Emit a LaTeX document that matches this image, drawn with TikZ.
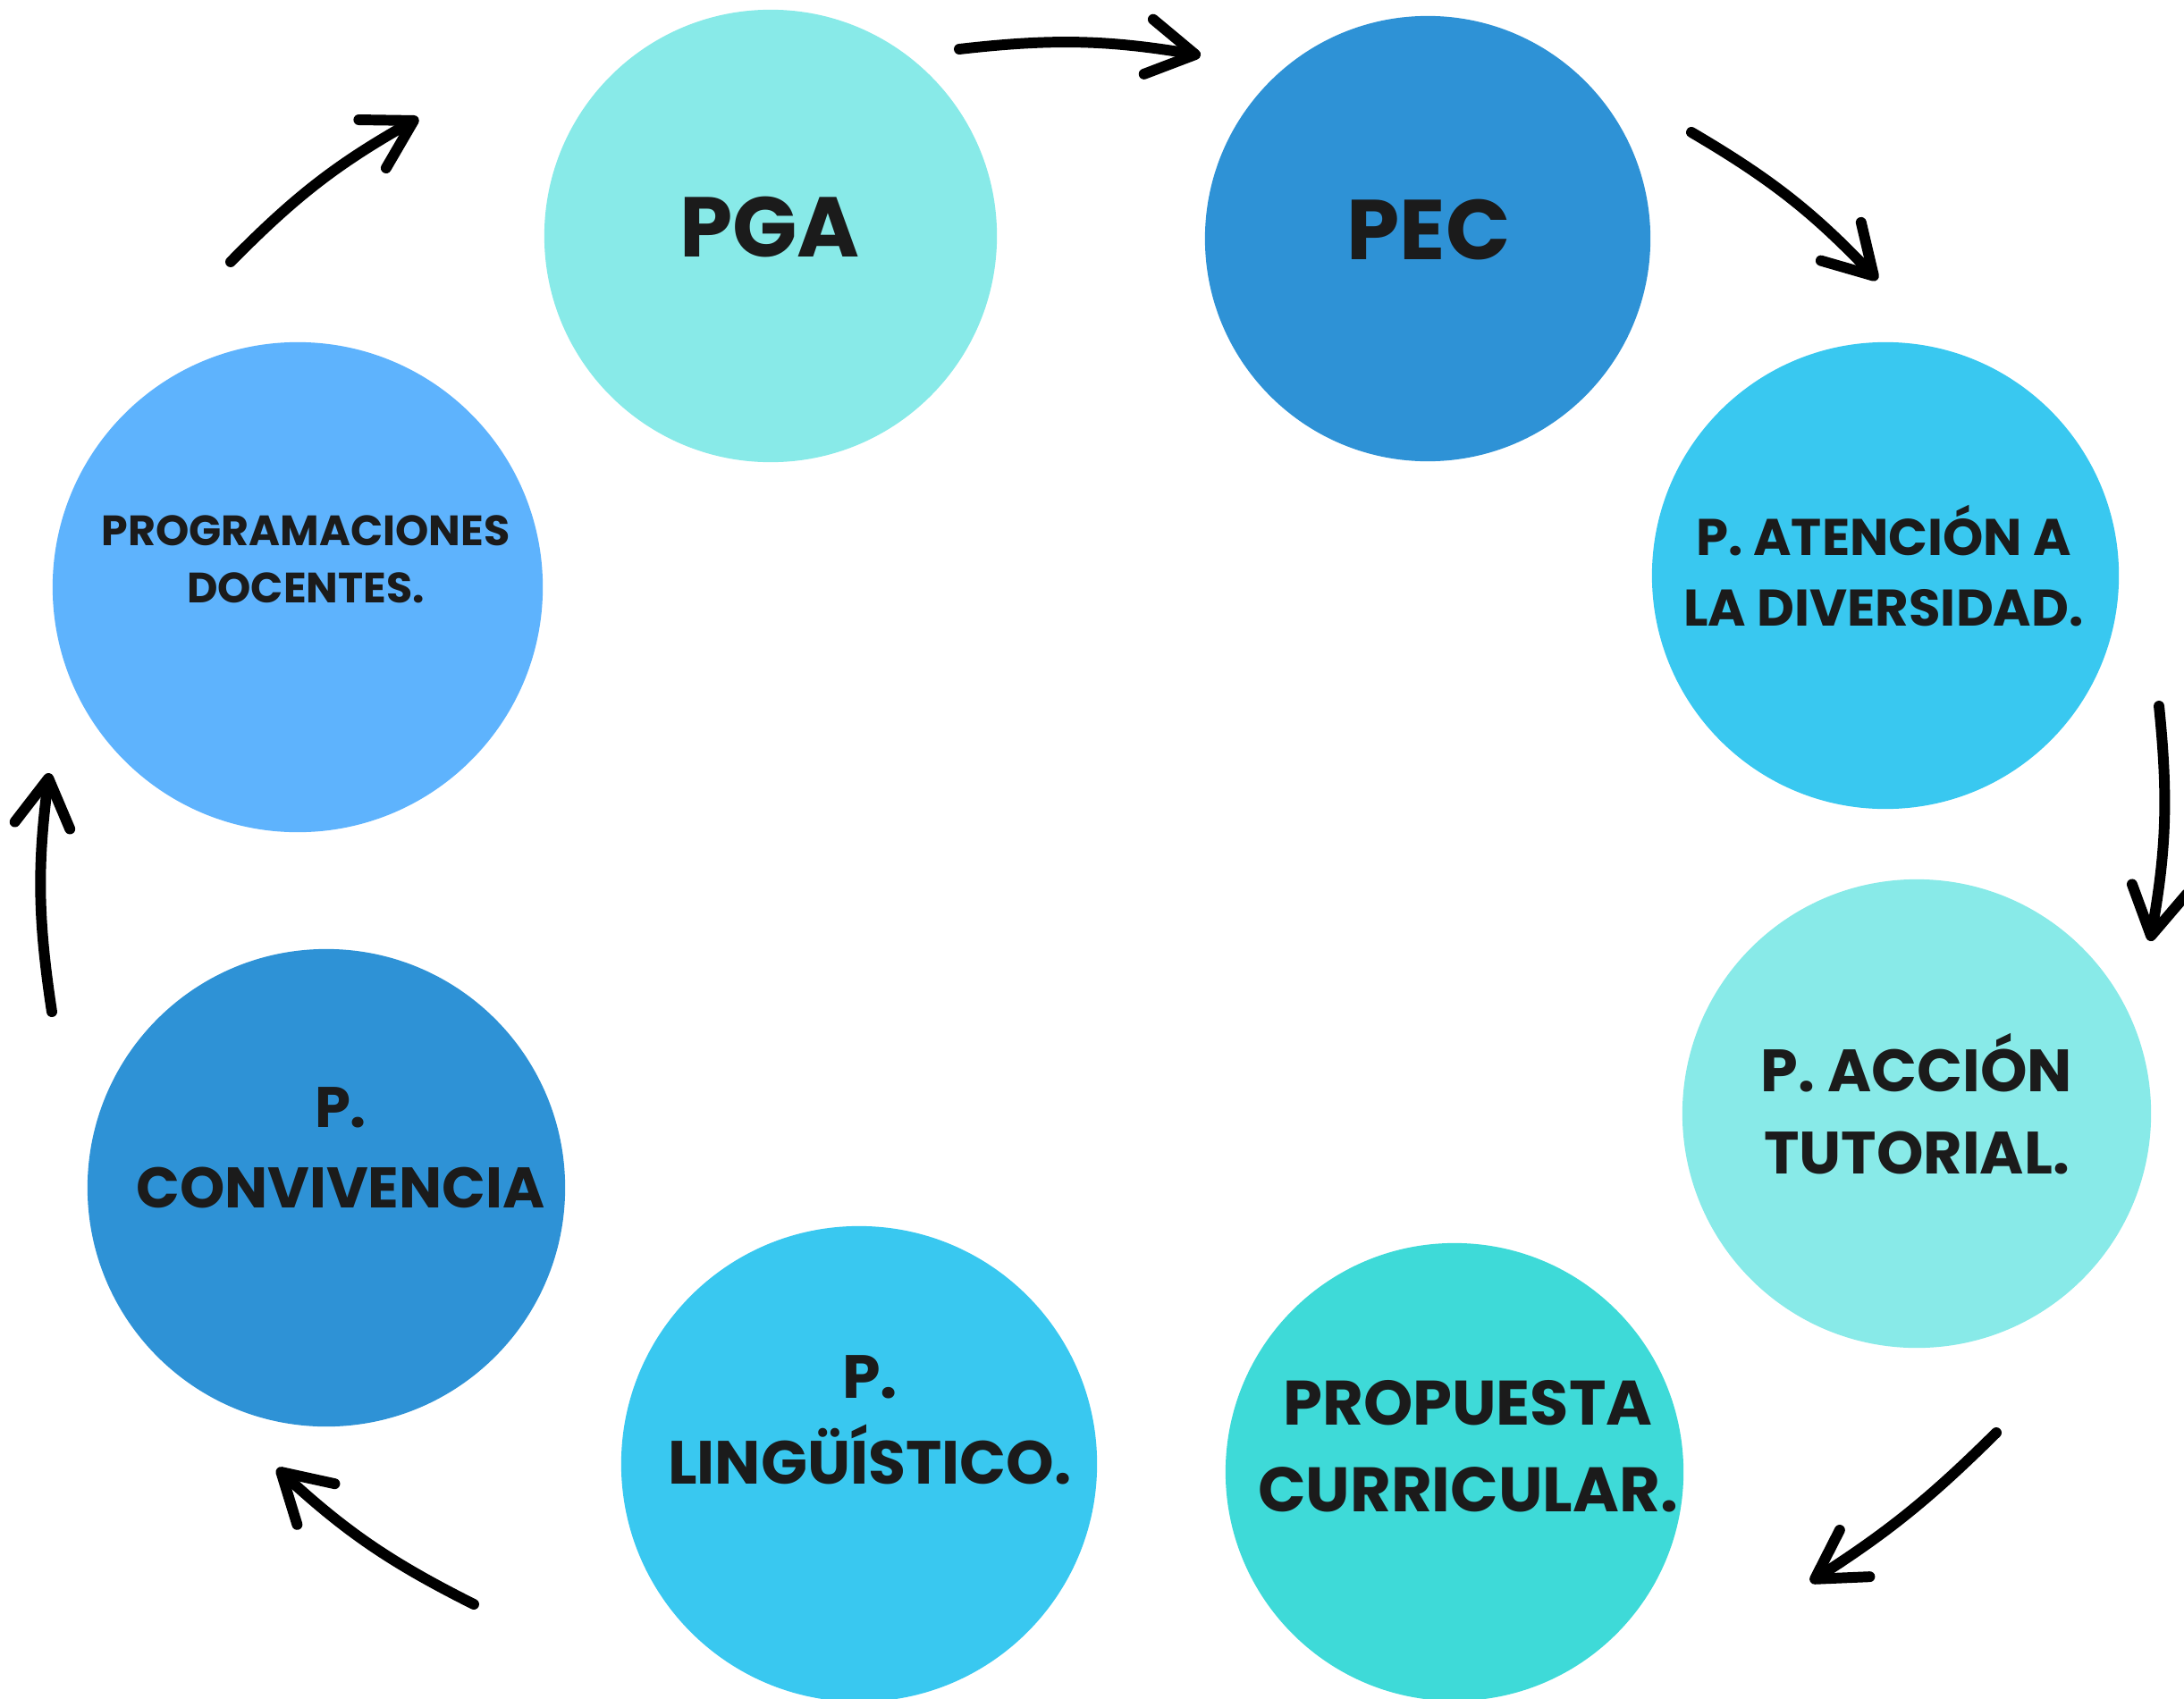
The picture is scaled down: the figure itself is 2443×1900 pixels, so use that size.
\documentclass[tikz,border=0pt]{standalone}
\usepackage{fontspec}
\setmainfont{Poppins}
\usetikzlibrary{arrows.meta}

\definecolor{aqua}{HTML}{88EAE8}
\definecolor{ocean}{HTML}{2E92D6}
\definecolor{sky}{HTML}{39C8F0}
\definecolor{turq}{HTML}{3EDAD8}
\definecolor{azure}{HTML}{5EB3FD}
\definecolor{ink}{HTML}{1B1B1B}

\begin{document}
\begin{tikzpicture}[x=0.01cm,y=0.01cm]
\tikzset{
  disc/.style={circle, inner sep=0pt, minimum size=#1},
  lbl/.style 2 args={text=ink, align=center, inner sep=0pt, font=\bfseries\fontsize{#1}{#2}\selectfont},
  flow/.style={line width=3.4pt, line cap=round, -{Straight Barb[length=5.3mm,width=6.2mm,round]}}
}
\useasboundingbox (0,0) rectangle (2443,-1900);
\fill [white] (0,0) rectangle (2443,-1900);
% circles
\node [disc=5.06cm, fill=aqua] (pga) at (862,-264) {};
\node [disc=4.98cm, fill=ocean] (pec) at (1597,-267) {};
\node [disc=5.22cm, fill=sky] (aten) at (2109,-644) {};
\node [disc=5.24cm, fill=aqua] (tut) at (2144,-1246) {};
\node [disc=5.12cm, fill=turq] (prop) at (1627,-1647) {};
\node [disc=5.32cm, fill=sky] (ling) at (961,-1638) {};
\node [disc=5.34cm, fill=ocean] (conv) at (365,-1329) {};
\node [disc=5.48cm, fill=azure] (prog) at (333,-657) {};
% labels
\node [lbl={27}{30}] (pgatext) at (861,-254) {PGA};
\node [lbl={27}{30}] (pectext) at (1598,-257) {PEC};
\node [lbl={16.4}{22.4}] (atentext) at (2107,-633) {P. ATENCIÓN A\\LA DIVERSIDAD.};
\node [lbl={19}{26}] (tuttext) at (2144,-1235) {P. ACCIÓN\\TUTORIAL.};
\node [lbl={20}{27.5}] (proptext) at (1642,-1618) {PROPUESTA\\CURRICULAR.};
\node [lbl={19.4}{27.3}] (lingtext) at (973,-1589) {P.\\LINGÜÍSTICO.};
\node [lbl={18.2}{25.6}] (convtext) at (381,-1284) {P.\\CONVIVENCIA};
\node [lbl={13.5}{18.2}] (progtext) at (342,-626) {PROGRAMACIONES\\DOCENTES.};
% arrow ends
\coordinate (a1s) at (1073,-55);
\coordinate (a1e) at (1343,-62);
\coordinate (a2s) at (1892,-148);
\coordinate (a2e) at (2100,-313);
\coordinate (a3s) at (2415,-790);
\coordinate (a3e) at (2405,-1053);
\coordinate (a4s) at (2233,-1603);
\coordinate (a4e) at (2025,-1770);
\coordinate (a5s) at (530,-1795);
\coordinate (a5e) at (310,-1643);
\coordinate (a6s) at (58,-1132);
\coordinate (a6e) at (55,-865);
\coordinate (a7s) at (258,-293);
\coordinate (a7e) at (468,-132);
% arrows
\draw [flow] (a1s) to[bend left=8] (a1e);
\draw [flow] (a2s) to[bend left=8] (a2e);
\draw [flow] (a3s) to[bend left=8] (a3e);
\draw [flow] (a4s) to[bend left=6] (a4e);
\draw [flow] (a5s) to[bend left=8] (a5e);
\draw [flow] (a6s) to[bend left=8] (a6e);
\draw [flow] (a7s) to[bend left=8] (a7e);
\end{tikzpicture}
\end{document}
